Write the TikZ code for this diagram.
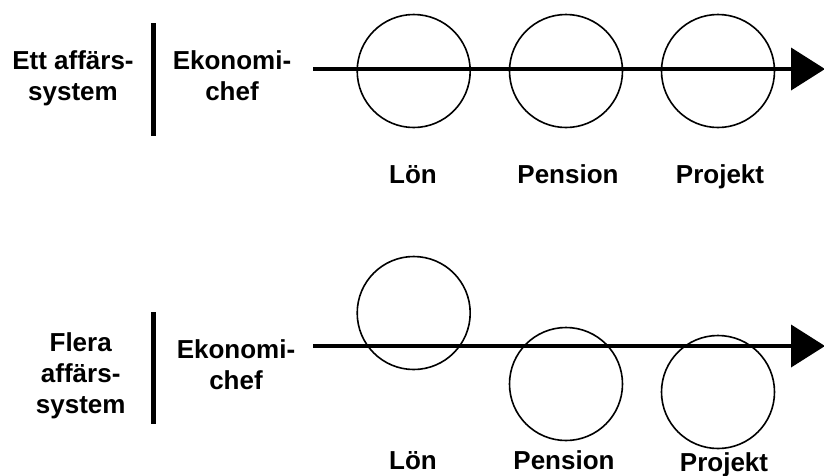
\documentclass[tikz,border=0pt]{standalone}
\usepackage{fontspec}
\setmainfont{Liberation Sans}
\usetikzlibrary{arrows.meta}
\begin{document}
\begin{tikzpicture}[x=1pt,y=-1pt,
  lbl/.style={font=\bfseries\fontsize{26}{31}\selectfont, align=center, inner sep=0pt},
  area/.style={draw, circle, line width=1.6pt, minimum size=113pt, inner sep=0pt},
  flow/.style={line width=4pt, -{Triangle[length=34pt,width=42pt]}},
  divider/.style={line width=5pt}]
\useasboundingbox (0,0) rectangle (824,475);

% --- one business system: all areas on the line ---
\node[lbl] (sys1) at (73,78) {Ett affärs-\\system};
\node[lbl] (role1) at (232,76) {Ekonomi-\\chef};
\coordinate (bar1a) at (153,23);
\coordinate (bar1b) at (153,136);
\draw[divider] (bar1a) -- (bar1b);
\node[area] (lon1) at (413.7,71) {};
\node[area] (pen1) at (566,71) {};
\node[area] (pro1) at (718,71) {};
\coordinate (s1) at (313,69);
\coordinate (e1) at (825,69);
\draw[flow] (s1) -- (e1);
\node[lbl, anchor=base] (lonl1) at (413,183) {Lön};
\node[lbl, anchor=base] (penl1) at (568,183) {Pension};
\node[lbl, anchor=base] (prol1) at (720,183) {Projekt};

% --- several business systems: areas off the line ---
\node[lbl] (sys2) at (80.7,376) {Flera\\affärs-\\system};
\node[lbl] (role2) at (236,365) {Ekonomi-\\chef};
\coordinate (bar2a) at (153,312);
\coordinate (bar2b) at (153,424);
\draw[divider] (bar2a) -- (bar2b);
\node[area] (lon2) at (413.7,313) {};
\node[area] (pen2) at (566,384) {};
\node[area] (pro2) at (718,392) {};
\coordinate (s2) at (313,346);
\coordinate (e2) at (825,346);
\draw[flow] (s2) -- (e2);
\node[lbl, anchor=base] (lonl2) at (413,469) {Lön};
\node[lbl, anchor=base] (penl2) at (564,469) {Pension};
\node[lbl, anchor=base] (prol2) at (724,471) {Projekt};
\end{tikzpicture}
\end{document}
